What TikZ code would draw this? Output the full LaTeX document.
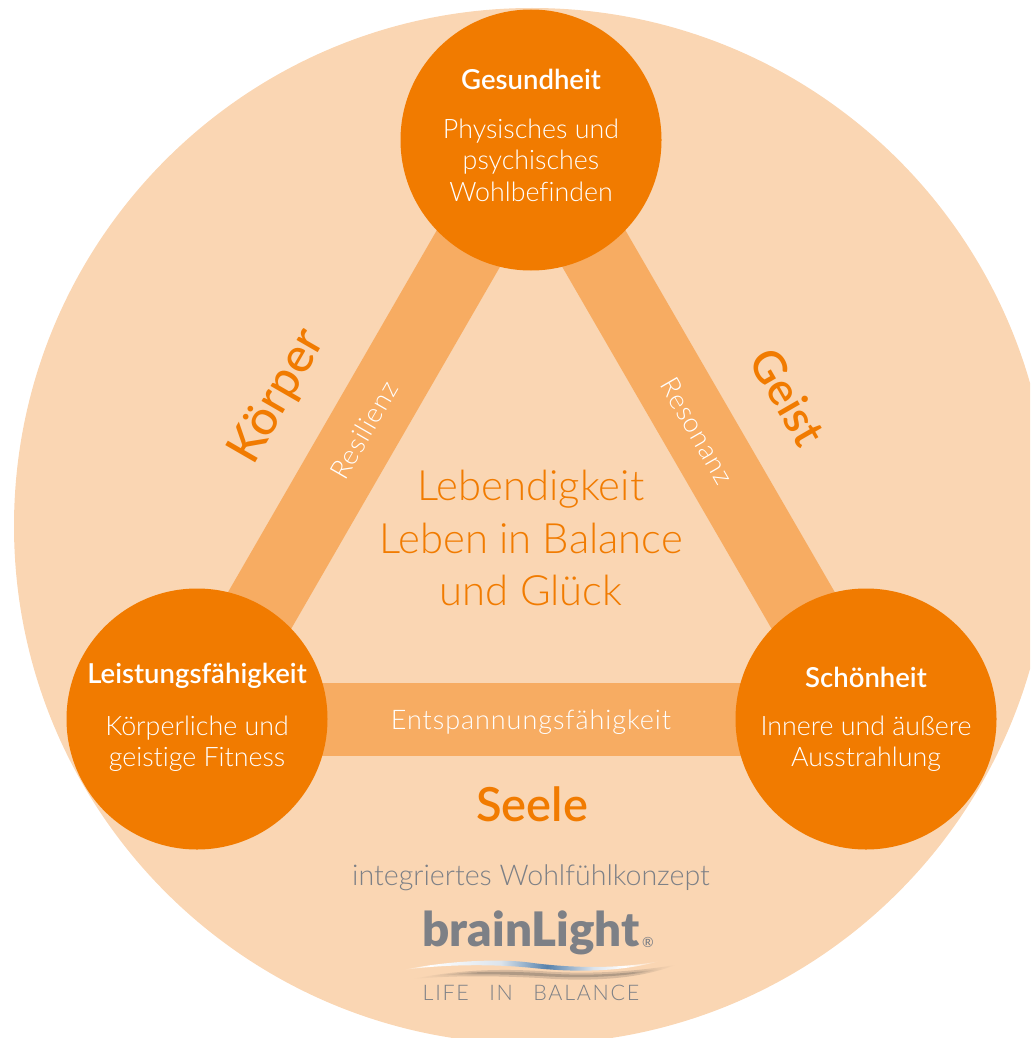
\documentclass[tikz,border=0pt]{standalone}
\usepackage{fontspec}
\setmainfont{Lato Light}[Ligatures=CommonOff]
\newfontfamily\boldf{Lato Semibold}[Ligatures=CommonOff]
\newfontfamily\medf{Lato Medium}[Ligatures=CommonOff]
\newfontfamily\logof{Lato Black}[Ligatures=CommonOff]
\newfontfamily\spacedf{Lato Light}[Ligatures=CommonOff,LetterSpace=3.5]
\newfontfamily\wideLf{Lato Light}[Ligatures=CommonOff,LetterSpace=8]
\definecolor{bgpeach}{HTML}{FAD6B3}
\definecolor{barc}{HTML}{F7AC62}
\definecolor{hub}{HTML}{F17B00}
\definecolor{greyt}{HTML}{7D8086}
\definecolor{swooshblue}{HTML}{5682AC}
\definecolor{swooshpale}{HTML}{DCE4EC}
\definecolor{swooshshadow}{HTML}{B09A85}
\pgfdeclarehorizontalshading{swooshtop}{100bp}{
  color(0bp)=(bgpeach); color(25bp)=(bgpeach); color(30bp)=(white); color(44bp)=(swooshpale);
  color(53bp)=(swooshblue); color(62bp)=(swooshpale); color(68bp)=(white); color(75bp)=(bgpeach); color(100bp)=(bgpeach)}
\pgfdeclarehorizontalshading{swooshlow}{100bp}{
  color(0bp)=(bgpeach); color(25bp)=(bgpeach); color(36bp)=(swooshshadow); color(55bp)=(swooshshadow);
  color(68bp)=(swooshshadow); color(75bp)=(bgpeach); color(100bp)=(bgpeach)}
\tikzset{
  x=1pt,y=-1pt,
  hubc/.style={circle,fill=hub,minimum size=261pt,inner sep=0pt},
  bar/.style={line width=73pt,barc},
  title/.style={text=white,font=\boldf\fontsize{27.5}{31}\selectfont},
  body/.style={text=white,align=center,font=\fontsize{26.8}{31.5}\selectfont},
  side/.style={text=hub,font=\medf\fontsize{48}{52}\selectfont},
  barlabel/.style={text=white,font=\spacedf\fontsize{27}{30}\selectfont},
  center/.style={text=hub,align=center,font=\fontsize{41.8}{52.5}\selectfont},
}
\begin{document}
\begin{tikzpicture}
\useasboundingbox (0,0) rectangle (1030,1038);
\begin{scope}
\clip (0,0) rectangle (1030,1038);
\fill[bgpeach] (532,526) circle [radius=518];
\end{scope}
\coordinate (T) at (531,140);
\coordinate (L) at (197,719);
\coordinate (R) at (866,719);
\draw[bar] (T) -- (L);
\draw[bar] (T) -- (R);
\draw[bar] (L) -- (R);
\node[hubc] (top) at (T) {};
\node[hubc] (left) at (L) {};
\node[hubc] (right) at (R) {};
\node[title] (t1) at (531,79) {Gesundheit};
\node[body,anchor=north] (t2) at (531,115) {Physisches und\\psychisches\\Wohlbefinden};
\node[title] (l1) at (197,676) {Leistungsfähigkeit};
\node[body,anchor=north] (l2) at (197,712) {Körperliche und\\geistige Fitness};
\node[title] (r1) at (866,677) {Schönheit};
\node[body,anchor=north] (r2) at (866,712) {Innere und äußere\\Ausstrahlung};
\node[barlabel,rotate=60] (b1) at (364,430) {Resilienz};
\node[barlabel,rotate=-60] (b2) at (697,431) {Resonanz};
\node[barlabel] (b3) at (531,722) {Entspannungsfähigkeit};
\node[side,rotate=60] (s1) at (278,397) {Körper};
\node[side,rotate=-60,font=\boldf\fontsize{45}{50}\selectfont] (s2) at (788,397) {Geist};
\node[side,font=\boldf\fontsize{47}{52}\selectfont] (s3) at (532,804) {Seele};
\node[center] (c) at (531,538) {Lebendigkeit\\Leben in Balance\\und Glück};
\node[text=greyt,font=\fontsize{28.6}{32}\selectfont] (w) at (531,878) {integriertes Wohlfühlkonzept};
\node[text=greyt,font=\logof\fontsize{47.5}{50}\selectfont] (logo) at (531,933) {brainLight};
\node[text=greyt,font=\medf\fontsize{14}{16}\selectfont] (reg) at (648,942) {®};
% swoosh
\shade[shading=swooshlow,draw=none,opacity=.45]
  (413,979) .. controls (460,969) and (505,969) .. (540,971) .. controls (590,975) and (640,971) .. (675,965)
  .. controls (640,979) and (590,982) .. (540,978) .. controls (500,976) and (455,975) .. (413,979) -- cycle;
\shade[shading=swooshlow,draw=none]
  (425,977) .. controls (465,971) and (505,971) .. (540,973) .. controls (590,977) and (635,973) .. (665,968)
  .. controls (635,976) and (590,979) .. (540,976) .. controls (500,974) and (460,973) .. (425,977) -- cycle;
\shade[shading=swooshtop,draw=none]
  (403,970) .. controls (445,961) and (500,958) .. (533,963) .. controls (580,969) and (625,968) .. (660,961)
  .. controls (625,971) and (580,973) .. (533,968) .. controls (495,964) and (445,964) .. (403,970) -- cycle;
\node[text=greyt,font=\wideLf\fontsize{21.5}{26}\selectfont] (lb) at (531,993) {LIFE\hspace{0.95em}IN\hspace{0.95em}BALANCE};
\end{tikzpicture}
\end{document}
